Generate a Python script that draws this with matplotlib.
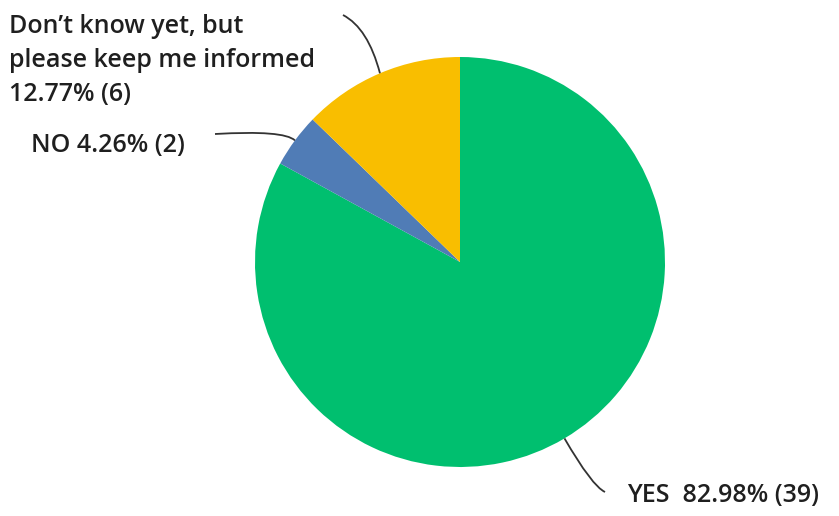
import numpy as np
import matplotlib
matplotlib.use("Agg")
import matplotlib.pyplot as plt
from matplotlib.path import Path
from matplotlib.patches import PathPatch

# 调查结果
answers = ["YES", "NO", "Don\u2019t know yet, but\nplease keep me informed"]
percents = [82.98, 4.26, 12.77]
counts = [39, 2, 6]
colors = ["#00BF6F", "#507CB6", "#F9BE00"]

plt.rcParams["font.family"] = ["Open Sans", "DejaVu Sans"]

W, H = 839, 516
fig = plt.figure(figsize=(W / 100, H / 100), dpi=100)
ax = fig.add_axes([0, 0, 1, 1])

cx, cy, r = 460, H - 262, 205
wedges, _ = ax.pie(counts, colors=colors, startangle=90, counterclock=False,
                   center=(cx, cy), radius=r, frame=True,
                   wedgeprops=dict(linewidth=0))
ax.set_xlim(0, W)
ax.set_ylim(0, H)
ax.set_aspect("equal")
ax.axis("off")


def edge_point(w):
    ang = np.deg2rad((w.theta1 + w.theta2) / 2)
    return cx + r * np.cos(ang), cy + r * np.sin(ang)


# 引线 (控制点, 终点), 像素坐标 y 向下
leaders = [((592, 486), (605, 492)),
           ((284, 130), (215, 134)),
           ((368, 28), (343, 15))]
for w, (ctrl, end) in zip(wedges, leaders):
    sx, sy = edge_point(w)
    p = Path([(sx, sy), (ctrl[0], H - ctrl[1]), (end[0], H - end[1])],
             [Path.MOVETO, Path.CURVE3, Path.CURVE3])
    ax.add_patch(PathPatch(p, fill=False, color="#333333", lw=1.3))

txt = dict(fontsize=18, fontweight="semibold", color="#1f1f1f")
ax.text(627, H - 495, "%s  %.2f%% (%d)" % (answers[0], percents[0], counts[0]),
        ha="left", va="center", **txt)
ax.text(31, H - 145, "%s %.2f%% (%d)" % (answers[1], percents[1], counts[1]),
        ha="left", va="center", **txt)
ax.text(9, H - 14, "%s\n%.2f%% (%d)" % (answers[2], percents[2], counts[2]),
        ha="left", va="top", linespacing=1.48, **txt)

fig.savefig("out.png", dpi=100)
